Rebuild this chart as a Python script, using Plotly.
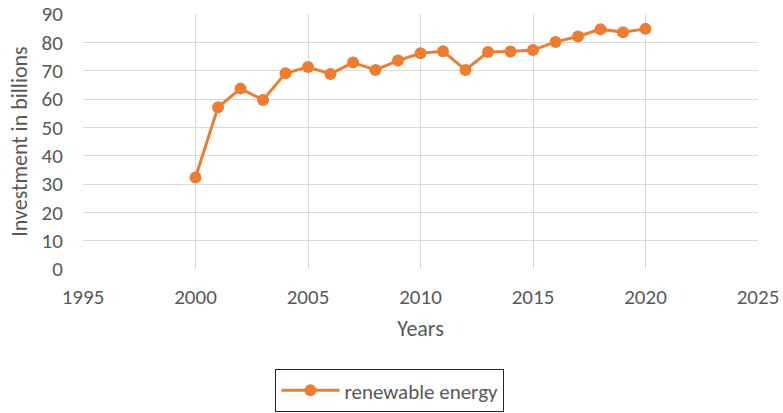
import plotly.graph_objects as go

years = list(range(2000, 2021))
investment = [32.3, 57.1, 63.7, 59.7, 69.1, 71.3, 68.9, 72.9, 70.3, 73.6, 76.2,
              76.9, 70.3, 76.6, 76.8, 77.3, 80.2, 82.1, 84.7, 83.6, 84.8]
series_name = "renewable energy"

fig = go.Figure()
fig.add_trace(go.Scatter(
    x=years, y=investment, name=series_name, mode="lines+markers",
    line=dict(color="#ED7D31", width=3),
    marker=dict(color="#ED7D31", size=12),
))

font_family = "Carlito, Lato, sans-serif"
fig.update_layout(
    width=783, height=413,
    margin=dict(l=83, r=25, t=14, b=144, autoexpand=False),
    paper_bgcolor="white", plot_bgcolor="white",
    font=dict(family=font_family, size=21, color="#595959"),
    showlegend=True,
    legend=dict(
        orientation="h", xref="container", yref="container",
        x=0.498, xanchor="center", y=0.106, yanchor="top",
        bordercolor="#262626", borderwidth=1, font=dict(size=21, color="#595959"),
        itemwidth=58,
    ),
    xaxis=dict(
        range=[1995, 2025], dtick=5, tick0=1995, automargin=False,
        ticklabeloverflow="allow",
        showgrid=True, gridcolor="#D9D9D9", gridwidth=1,
        zeroline=False, showline=False, ticks="outside", ticklen=9, tickcolor="rgba(0,0,0,0)",
        tickfont=dict(size=21),
        title=dict(text="Years", font=dict(size=22), standoff=11),
    ),
    yaxis=dict(
        range=[0, 90.05], dtick=10, automargin=False,
        ticklabeloverflow="allow",
        showgrid=True, gridcolor="#D9D9D9", gridwidth=1,
        zeroline=False, showline=False, ticks="outside", ticklen=15, tickcolor="rgba(0,0,0,0)",
        tickfont=dict(size=21),
        title=dict(text="Investment in billions", font=dict(size=22), standoff=7),
    ),
)
fig.write_html(
    "out.html",
    config={"displayModeBar": False},
    post_script="document.body.style.margin='0';document.body.style.overflow='hidden';",
)
